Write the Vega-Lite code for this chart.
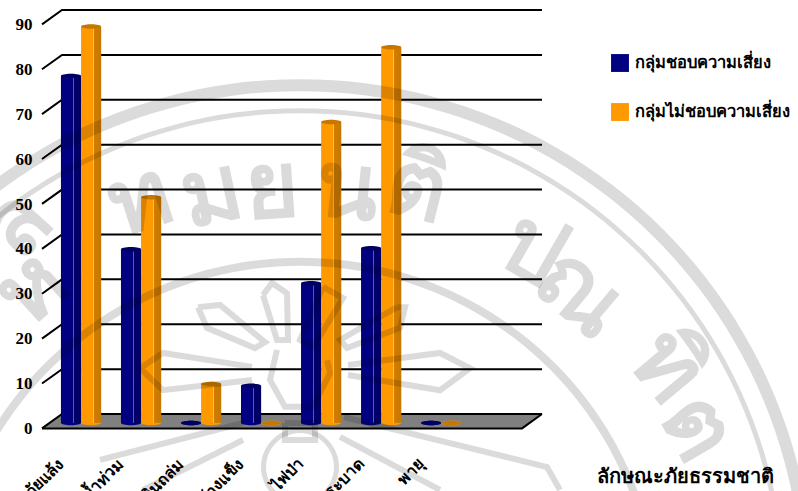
{
"$schema":"https://vega.github.io/schema/vega-lite/v6.json",
"width":500,"height":413,
"autosize":"none",
"padding":{"left":42,"top":10,"right":256,"bottom":68},
"background":"white",
"datasets":{
"bars":[
{"hazard":"ภัยแล้ง","group":"กลุ่มชอบความเสี่ยง","pct":77.5},{"hazard":"ภัยแล้ง","group":"กลุ่มไม่ชอบความเสี่ยง","pct":88.5},
{"hazard":"น้ำท่วม","group":"กลุ่มชอบความเสี่ยง","pct":38.8},{"hazard":"น้ำท่วม","group":"กลุ่มไม่ชอบความเสี่ยง","pct":50.4},
{"hazard":"ดินถล่ม","group":"กลุ่มชอบความเสี่ยง","pct":0},{"hazard":"ดินถล่ม","group":"กลุ่มไม่ชอบความเสี่ยง","pct":8.7},
{"hazard":"น้ำค้างแข็ง","group":"กลุ่มชอบความเสี่ยง","pct":8.3},{"hazard":"น้ำค้างแข็ง","group":"กลุ่มไม่ชอบความเสี่ยง","pct":0},
{"hazard":"ไฟป่า","group":"กลุ่มชอบความเสี่ยง","pct":31.2},{"hazard":"ไฟป่า","group":"กลุ่มไม่ชอบความเสี่ยง","pct":67.2},
{"hazard":"โรคระบาด","group":"กลุ่มชอบความเสี่ยง","pct":39},{"hazard":"โรคระบาด","group":"กลุ่มไม่ชอบความเสี่ยง","pct":83.9},
{"hazard":"พายุ","group":"กลุ่มชอบความเสี่ยง","pct":0},{"hazard":"พายุ","group":"กลุ่มไม่ชอบความเสี่ยง","pct":0}
],
"floor":[{"u":0,"a":-3.2,"b":-3.2},{"u":4,"a":-3.2,"b":0},{"u":96,"a":-3.2,"b":0},{"u":100,"a":0,"b":0}],
"grid":[
{"level":10,"u":0,"v":6.8},{"level":10,"u":4,"v":10},{"level":10,"u":100,"v":10},
{"level":20,"u":0,"v":16.8},{"level":20,"u":4,"v":20},{"level":20,"u":100,"v":20},
{"level":30,"u":0,"v":26.8},{"level":30,"u":4,"v":30},{"level":30,"u":100,"v":30},
{"level":40,"u":0,"v":36.8},{"level":40,"u":4,"v":40},{"level":40,"u":100,"v":40},
{"level":50,"u":0,"v":46.8},{"level":50,"u":4,"v":50},{"level":50,"u":100,"v":50},
{"level":60,"u":0,"v":56.8},{"level":60,"u":4,"v":60},{"level":60,"u":100,"v":60},
{"level":70,"u":0,"v":66.8},{"level":70,"u":4,"v":70},{"level":70,"u":100,"v":70},
{"level":80,"u":0,"v":76.8},{"level":80,"u":4,"v":80},{"level":80,"u":100,"v":80},
{"level":90,"u":0,"v":86.8},{"level":90,"u":4,"v":90},{"level":90,"u":100,"v":90}
],
"edge":[
{"edge":"front","u":0,"v":-3.2},{"edge":"front","u":96,"v":-3.2},{"edge":"front","u":100,"v":0},
{"edge":"back","u":0,"v":-3.2},{"edge":"back","u":4,"v":0},{"edge":"back","u":100,"v":0}
],
"seal":[{"u":51.6,"v":-39.9}],
"sealInner":[{"u":51.6,"v":-45.6}],
"sealMedallion":[{"u":51.6,"v":-11.8}],
"sealOutline":[
{"part":"A","n":1,"u":31.2,"v":23.8},{"part":"A","n":2,"u":35.6,"v":24.3},{"part":"A","n":3,"u":44.6,"v":16},{"part":"A","n":4,"u":42.6,"v":14.7},{"part":"A","n":5,"u":33,"v":19.2},{"part":"A","n":6,"u":31.2,"v":23.8},
{"part":"B","n":1,"u":44.2,"v":26.5},{"part":"B","n":2,"u":46,"v":29.2},{"part":"B","n":3,"u":49,"v":26.9},{"part":"B","n":4,"u":49.2,"v":16.5},{"part":"B","n":5,"u":47,"v":16.5},{"part":"B","n":6,"u":44.2,"v":26.5},
{"part":"C","n":1,"u":56.2,"v":28.3},{"part":"C","n":2,"u":60.2,"v":25.8},{"part":"C","n":3,"u":54.2,"v":14.9},{"part":"C","n":4,"u":51.6,"v":16.5},{"part":"C","n":5,"u":56.2,"v":28.3},
{"part":"D","n":1,"u":71,"v":23.8},{"part":"D","n":2,"u":72.6,"v":23.8},{"part":"D","n":3,"u":71.6,"v":19.2},{"part":"D","n":4,"u":61,"v":14.7},{"part":"D","n":5,"u":59.6,"v":16.5},{"part":"D","n":6,"u":71,"v":23.8},
{"part":"E","n":1,"u":61.2,"v":10.9},{"part":"E","n":2,"u":79.6,"v":13.6},{"part":"E","n":3,"u":85.6,"v":10.2},{"part":"E","n":4,"u":79.6,"v":5.3},{"part":"E","n":5,"u":61.2,"v":8.7},
{"part":"F","n":1,"u":42,"v":10.5},{"part":"F","n":2,"u":24.2,"v":13.6},{"part":"F","n":3,"u":19.6,"v":10.2},{"part":"F","n":4,"u":24.2,"v":5.3},{"part":"F","n":5,"u":42,"v":7.6},
{"part":"G","n":1,"u":60.4,"v":-0.7},{"part":"G","n":2,"u":101,"v":-11.8},{"part":"G","n":3,"u":103.6,"v":-16.9},
{"part":"H","n":1,"u":11.6,"v":-10.2},{"part":"H","n":2,"u":40.2,"v":-2},
{"part":"I","n":1,"u":20.2,"v":-16.9},{"part":"I","n":2,"u":40.2,"v":-5.8},
{"part":"J","n":1,"u":59.6,"v":-5.1},{"part":"J","n":2,"u":79.6,"v":-16.9},
{"part":"K","n":1,"u":47,"v":14.3},{"part":"K","n":2,"u":45.6,"v":7.6},{"part":"K","n":3,"u":48.6,"v":1.6},{"part":"K","n":4,"u":54.2,"v":1.6},{"part":"K","n":5,"u":57.6,"v":9.1},{"part":"K","n":6,"u":57,"v":12},
{"part":"L","n":1,"u":48.6,"v":-2},{"part":"L","n":2,"u":54.6,"v":-2},{"part":"L","n":3,"u":54.6,"v":-5.8},{"part":"L","n":4,"u":48.6,"v":-5.8},{"part":"L","n":5,"u":48.6,"v":-2}
],
"sealLetters":[
{"ch":"ล","u":-5,"v":42,"rot":-48},
{"ch":"ห","u":-2,"v":28,"rot":-42},
{"ch":"ท","u":19.6,"v":47.5,"rot":-18},
{"ch":"ม","u":34,"v":49,"rot":-12},
{"ch":"ย","u":46,"v":50,"rot":-4},
{"ch":"น","u":61,"v":50,"rot":6},
{"ch":"ติ","u":75,"v":50,"rot":14},
{"ch":"ป","u":98,"v":36.5,"rot":30},
{"ch":"ณ","u":107.6,"v":27,"rot":40},
{"ch":"ทิ","u":125,"v":10.5,"rot":50},
{"ch":"ต","u":131,"v":-3,"rot":60}
]
},
"config":{"view":{"stroke":null},"font":"Liberation Serif"},
"layer":[
{"data":{"name":"floor"},"mark":{"type":"area","color":"#808080"},
 "encoding":{"x":{"field":"u","type":"quantitative","scale":{"domain":[0,100]},"axis":null},
 "y":{"field":"a","type":"quantitative","scale":{"domain":[-2,90]},"axis":null},"y2":{"field":"b"}}},
{"data":{"name":"grid"},"mark":{"type":"line","color":"black","strokeWidth":2},
 "encoding":{"x":{"field":"u","type":"quantitative","scale":{"domain":[0,100]},"axis":null},
 "y":{"field":"v","type":"quantitative","scale":{"domain":[-2,90]},"axis":null},"detail":{"field":"level"}}},
{"data":{"name":"edge"},"mark":{"type":"line","color":"black","strokeWidth":2},
 "encoding":{"x":{"field":"u","type":"quantitative","scale":{"domain":[0,100]},"axis":null},
 "y":{"field":"v","type":"quantitative","scale":{"domain":[-2,90]},"axis":null},"detail":{"field":"edge"}}},
{"data":{"name":"bars"},
 "encoding":{
  "x":{"field":"hazard","type":"nominal","sort":null,"title":null,
    "scale":{"paddingInner":0.33,"paddingOuter":0.83,"align":0.19},
    "axis":{"labelAngle":-45,"labelAlign":"right","labelBaseline":"middle","labelPadding":38,"labelOffset":-20,"labelFontSize":16,"labelFontWeight":"bold","labelColor":"black","labelFont":"Liberation Serif","domain":false,"ticks":false}},
  "xOffset":{"field":"group","type":"nominal","sort":null},
  "y":{"field":"pct","type":"quantitative","title":null,
    "scale":{"domain":[0,92.2],"nice":false},
    "axis":{"values":[0,10,20,30,40,50,60,70,80,90],"labelOffset":5,"labelPadding":10,"labelFontSize":17,"labelFontWeight":"bold","labelColor":"black","labelFont":"Liberation Serif","domain":false,"ticks":false,"grid":false}},
  "color":{"field":"group","type":"nominal","sort":null,"title":null,
    "scale":{"range":["#000080","#FF9900"]},
    "legend":{"orient":"none","legendX":568,"legendY":43,"symbolType":"square","symbolSize":320,"symbolOpacity":1,"labelFontSize":16.5,"labelFontWeight":"bold","labelColor":"black","labelFont":"Liberation Serif","rowPadding":30,"labelLimit":300,"labelOffset":5}}
 },
 "layer":[
  {"mark":{"type":"point","filled":true,"opacity":1,"size":400,"shape":"M-1,0A1,0.22 0 1 1 1,0A1,0.22 0 1 1 -1,0Z"},
   "encoding":{"y":{"datum":0}}},
  {"mark":{"type":"bar"}},
  {"mark":{"type":"bar"},
   "encoding":{"color":{"value":{"gradient":"linear","x1":0,"x2":1,"y1":0,"y2":0,"stops":[
     {"offset":0,"color":"rgba(0,0,0,0)"},{"offset":0.58,"color":"rgba(0,0,0,0)"},{"offset":0.59,"color":"rgba(255,255,255,0.35)"},{"offset":0.63,"color":"rgba(255,255,255,0.35)"},{"offset":0.64,"color":"rgba(0,0,0,0.18)"},{"offset":1,"color":"rgba(0,0,0,0.22)"}]}}}},
  {"mark":{"type":"point","filled":true,"opacity":1,"size":400,"shape":"M-1,0A1,0.22 0 1 1 1,0A1,0.22 0 1 1 -1,0Z"}},
  {"mark":{"type":"point","filled":true,"opacity":0.22,"size":400,"shape":"M-1,0A1,0.22 0 1 1 1,0A1,0.22 0 1 1 -1,0Z"},
   "encoding":{"color":{"value":"black"}}}
 ]},
{"data":{"values":[{"label":"ลักษณะภัยธรรมชาติ","u":128.6,"v":-14}]},
 "mark":{"type":"text","font":"Liberation Serif","fontSize":20,"fontWeight":"bold","align":"center","baseline":"middle","color":"black"},
 "encoding":{"text":{"field":"label"},
  "x":{"field":"u","type":"quantitative","scale":{"domain":[0,100]},"axis":null},
  "y":{"field":"v","type":"quantitative","scale":{"domain":[-2,90]},"axis":null}}},
{"data":{"name":"seal"},"mark":{"type":"arc","radius":502,"radius2":514,"theta":-3.14,"theta2":3.14,"color":"black","opacity":0.14},
 "encoding":{"x":{"field":"u","type":"quantitative","scale":{"domain":[0,100]},"axis":null},
  "y":{"field":"v","type":"quantitative","scale":{"domain":[-2,90]},"axis":null}}},
{"data":{"name":"seal"},"mark":{"type":"arc","radius":480,"radius2":485,"theta":-3.14,"theta2":3.14,"color":"black","opacity":0.14},
 "encoding":{"x":{"field":"u","type":"quantitative","scale":{"domain":[0,100]},"axis":null},
  "y":{"field":"v","type":"quantitative","scale":{"domain":[-2,90]},"axis":null}}},
{"data":{"name":"sealInner"},"mark":{"type":"arc","radius":353,"radius2":361,"theta":-3.14,"theta2":3.14,"color":"black","opacity":0.14},
 "encoding":{"x":{"field":"u","type":"quantitative","scale":{"domain":[0,100]},"axis":null},
  "y":{"field":"v","type":"quantitative","scale":{"domain":[-2,90]},"axis":null}}},
{"data":{"name":"sealMedallion"},"mark":{"type":"arc","radius":34,"radius2":39,"theta":-3.14,"theta2":3.14,"color":"black","opacity":0.14},
 "encoding":{"x":{"field":"u","type":"quantitative","scale":{"domain":[0,100]},"axis":null},
  "y":{"field":"v","type":"quantitative","scale":{"domain":[-2,90]},"axis":null}}},
{"data":{"name":"sealOutline"},"mark":{"type":"line","color":"black","opacity":0.14,"strokeWidth":6,"strokeJoin":"miter"},
 "encoding":{"x":{"field":"u","type":"quantitative","scale":{"domain":[0,100]},"axis":null},
  "y":{"field":"v","type":"quantitative","scale":{"domain":[-2,90]},"axis":null},
  "detail":{"field":"part"},"order":{"field":"n","type":"quantitative"}}},
{"data":{"name":"sealLetters"},"mark":{"type":"text","font":"Liberation Serif","fontSize":92,"fontWeight":"bold","align":"center","baseline":"middle","color":"black","opacity":0.14},
 "encoding":{"text":{"field":"ch"},"angle":{"field":"rot","type":"quantitative","scale":null},
  "x":{"field":"u","type":"quantitative","scale":{"domain":[0,100]},"axis":null},
  "y":{"field":"v","type":"quantitative","scale":{"domain":[-2,90]},"axis":null}}}
],
"resolve":{"scale":{"x":"independent","y":"independent"},"axis":{"x":"independent","y":"independent"}}
}
